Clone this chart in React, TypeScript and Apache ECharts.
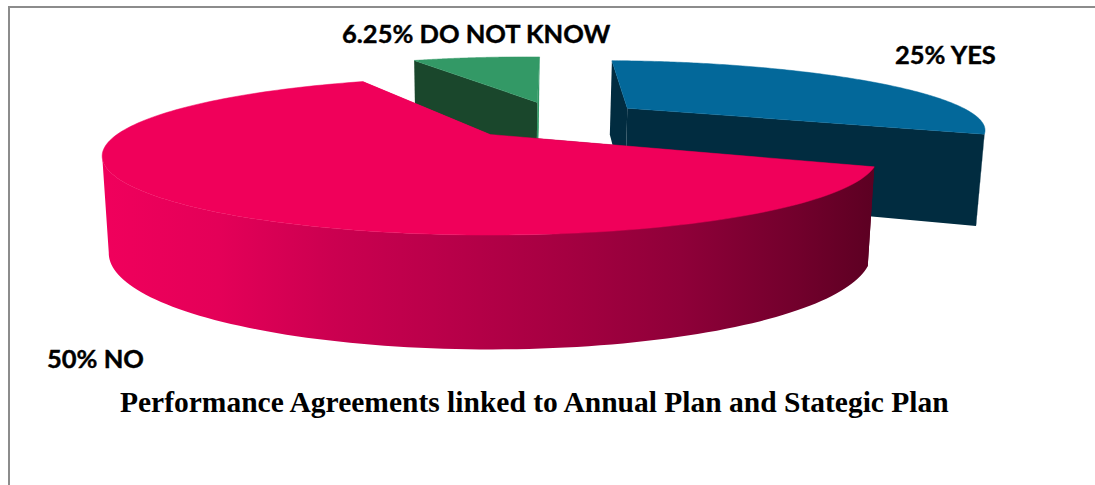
import React, { useEffect, useRef } from "react";
import * as echarts from "echarts";

const categories = ["YES", "NO", "DO NOT KNOW"];
const percentages = [25, 50, 6.25];
const sliceLabels = ["25% YES", "50% NO", "6.25% DO NOT KNOW"];
const chartTitle = "Performance Agreements linked to Annual Plan and Stategic Plan";

// Clockwise from this ground-plane angle, in degrees, the first slice starts.
const START_ANGLE = 87.5;

// Perspective view of the unit-radius pie.
const VIEW = { cx: 490, cy: 134.5, scaleX: 373, scaleY: 73, persp: 0.274, depth: 92, depthPow: 0.68, floorShrink: 0.983 };

// How far each slice is pulled out of the pie, in radius units on the ground plane.
const sliceOffsets = [[0.4085, 0.4], [0, 0], [0.144, 0.5]];

const sliceStyles = [
  { top: "#03689a", outer: "#012c40", faceStart: "#012c40", faceEnd: "#012c40" },
  {
    top: "#f0005a",
    outer: [
      [0, "#f0005c"], [0.15, "#e40058"], [0.3, "#cb0050"], [0.45, "#b80049"],
      [0.6, "#a50041"], [0.75, "#8f0039"], [0.9, "#72002c"], [1, "#5c0022"],
    ],
    faceStart: "#5c0022",
    faceEnd: "#f0005a",
  },
  { top: "#339966", outer: "#1a472c", faceStart: "#1a472c", faceEnd: "#339966" },
];

const total = percentages.reduce((a, b) => a + b, 0);
const rad = (d: number) => (d * Math.PI) / 180;

type Wedge = { from: number; to: number };
const wedges: Wedge[] = [];
percentages.reduce((angle, v) => {
  const span = (v / total) * 360;
  wedges.push({ from: angle, to: angle - span });
  return angle - span;
}, START_ANGLE);

// Slices further back on the ground plane are painted first.
const drawOrder = wedges.map((_, i) => i).sort((a, b) => sliceOffsets[b][1] - sliceOffsets[a][1]);

const project = (u: number, v: number, floor: boolean): number[] => {
  const s = 1 / (1 + VIEW.persp * v);
  const x = VIEW.cx + VIEW.scaleX * u * s;
  const y = VIEW.cy - VIEW.scaleY * v * s;
  if (!floor) return [x, y];
  return [VIEW.cx + (x - VIEW.cx) * VIEW.floorShrink, y + VIEW.depth * Math.pow(s, VIEW.depthPow)];
};

const arcPoints = (idx: number, floor: boolean): number[][] => {
  const w = wedges[idx];
  const [ou, ov] = sliceOffsets[idx];
  const n = 160;
  const out: number[][] = [];
  for (let i = 0; i <= n; i++) {
    const t = rad(w.from + ((w.to - w.from) * i) / n);
    out.push(project(ou + Math.cos(t), ov + Math.sin(t), floor));
  }
  return out;
};

const renderSlice = (_params: any, api: any) => {
  const idx = api.value(0) as number;
  const st = sliceStyles[idx];
  const [ou, ov] = sliceOffsets[idx];
  const apexTop = project(ou, ov, false);
  const apexFloor = project(ou, ov, true);
  const topArc = arcPoints(idx, false);
  const floorArc = arcPoints(idx, true);
  const last = topArc.length - 1;

  // Going clockwise the rim only faces the viewer while x is decreasing.
  const facing = topArc.map((p, i) =>
    (i > 0 && p[0] < topArc[i - 1][0]) || (i < last && topArc[i + 1][0] < p[0]));
  const wallTop = topArc.filter((_, i) => facing[i]);
  const wallFloor = floorArc.filter((_, i) => facing[i]);

  const outerFill = Array.isArray(st.outer)
    ? new echarts.graphic.LinearGradient(0, 0, 1, 0, st.outer.map(([offset, color]) => ({ offset: offset as number, color: color as string })))
    : st.outer;
  const poly = (points: number[][], fill: any, stroke: any = null) => ({
    type: "polygon",
    shape: { points },
    style: { fill, stroke, lineWidth: stroke ? 0.5 : 0 },
  });
  const children: any[] = [
    poly([apexTop, topArc[last], floorArc[last], apexFloor], st.faceEnd),
    poly([apexTop, topArc[0], floorArc[0], apexFloor], st.faceStart),
  ];
  if (wallTop.length > 1) children.push(poly([...wallTop, ...wallFloor.slice().reverse()], outerFill));
  children.push(poly([apexTop, ...topArc], st.top, st.top));
  return { type: "group", children };
};

export default function App() {
  const ref = useRef<HTMLDivElement>(null);
  useEffect(() => {
    const chart = echarts.init(ref.current!, undefined, { renderer: "svg" });
    const labelFont = { fontFamily: "Lato", fontWeight: "bold", fontSize: 25.5, fill: "#000", stroke: "#000", lineWidth: 0.4 };
    chart.setOption({
      animation: false,
      backgroundColor: "#fff",
      title: {
        text: chartTitle,
        left: 120,
        top: 387,
        padding: 0,
        textStyle: { fontFamily: "Liberation Serif", fontWeight: "bold", fontSize: 29.5, color: "#000" },
      },
      series: [
        {
          type: "custom",
          coordinateSystem: "none",
          silent: true,
          renderItem: renderSlice,
          data: drawOrder.map((i) => ({ name: categories[i], value: [i, percentages[i]] })),
        },
      ],
      graphic: [
        { type: "rect", shape: { x: 8, y: 6, width: 1087, height: 2 }, style: { fill: "#8c8c8c" } },
        { type: "rect", shape: { x: 8, y: 6, width: 2, height: 479 }, style: { fill: "#8c8c8c" } },
        { type: "text", x: 895, y: 41, style: { ...labelFont, text: sliceLabels[0] } },
        { type: "text", x: 47, y: 345, style: { ...labelFont, text: sliceLabels[1] } },
        { type: "text", x: 342, y: 20, style: { ...labelFont, text: sliceLabels[2] } },
      ],
    });
    return () => chart.dispose();
  }, []);
  return <div ref={ref} style={{ position: "absolute", left: 0, top: 0, width: 1095, height: 485 }} />;
}
